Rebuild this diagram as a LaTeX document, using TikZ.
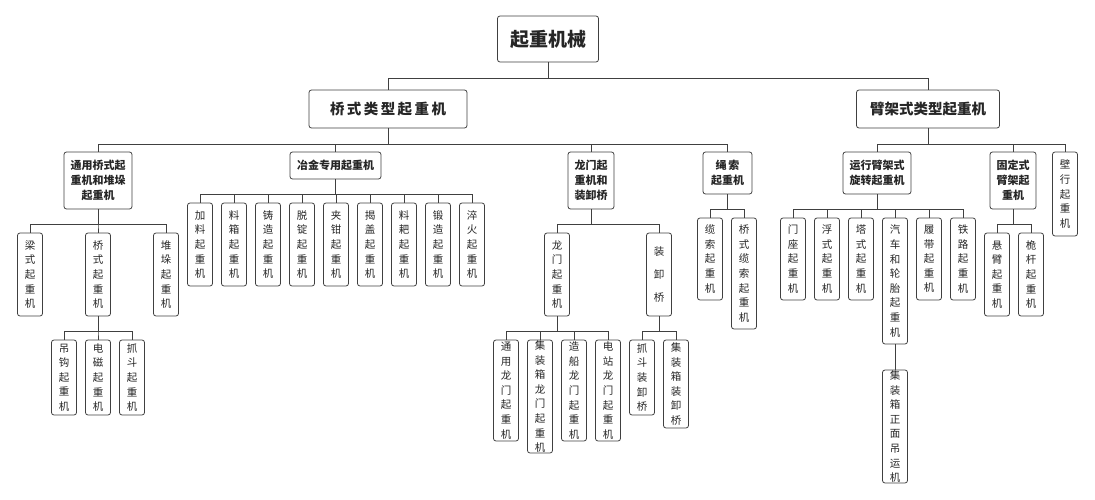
\documentclass[tikz,border=0pt]{standalone}
\usepackage{fontspec}
\setmainfont{Noto Sans CJK SC}
\begin{document}
\begin{tikzpicture}[x=1pt,y=-1pt,
  box/.style={draw=black!75,line width=0.8pt,rounded corners=2.5pt,fill=white,align=center,inner sep=0pt,text=black!85},
  vb/.style={box,minimum width=25pt,font=\fontsize{10.5}{14.6}\selectfont},
  lv2/.style={box,font=\fontsize{11}{15}\selectfont\bfseries},
  ln/.style={draw=black!75,line width=0.8pt}]
\useasboundingbox (0,0) rectangle (1095,500);
\newcommand{\mytree}[3]{\foreach \c in {#3}{\draw[ln] (#1.south) -- ++(0,#2) -| (\c.north);}}
% root and level 1
\node[box,minimum width=101pt,minimum height=46pt,font=\fontsize{19}{22}\selectfont\bfseries] (root) at (548,39) {起重机械};
\node[box,minimum width=158pt,minimum height=38pt,font=\fontsize{14.5}{18}\selectfont\bfseries] (qs) at (388,109) {桥\,式\,类\,型\,起\,重\,机};
\node[box,minimum width=143pt,minimum height=38pt,font=\fontsize{14.5}{18}\selectfont\bfseries] (bj) at (928,109) {臂架式类型起重机};
\mytree{root}{16}{qs,bj}
% level 2 left
\node[lv2,minimum width=68pt,minimum height=57pt] (ty) at (98,180.5) {通用桥式起\\重机和堆垛\\起重机};
\node[lv2,minimum width=91pt,minimum height=27pt] (yj) at (335.5,165.5) {冶金专用起重机};
\node[lv2,minimum width=46pt,minimum height=57pt] (lm) at (591,180.5) {龙门起\\重机和\\装卸桥};
\node[lv2,minimum width=49pt,minimum height=42pt] (ss) at (727.5,173) {绳\,索\\起重机};
\mytree{qs}{16}{ty,yj,lm,ss}
% level 2 right
\node[lv2,minimum width=68pt,minimum height=42pt] (yx) at (877,173) {运行臂架式\\旋转起重机};
\node[lv2,minimum width=46pt,minimum height=57pt] (gd) at (1013,180.5) {固定式\\臂架起\\重机};
\node[vb,minimum height=84pt] (bx) at (1065,194) {壁\\行\\起\\重\\机};
\mytree{bj}{16}{yx,gd,bx}
% 通用 children
\node[vb,minimum height=83pt] (ls) at (30,274.5) {梁\\式\\起\\重\\机};
\node[vb,minimum height=83pt] (qsq) at (98,274.5) {桥\\式\\起\\重\\机};
\node[vb,minimum height=83pt] (dd) at (166,274.5) {堆\\垛\\起\\重\\机};
\mytree{ty}{15}{ls,qsq,dd}
\node[vb,minimum height=75pt] (dg) at (64,377.5) {吊\\钩\\起\\重\\机};
\node[vb,minimum height=75pt] (dc) at (98,377.5) {电\\磁\\起\\重\\机};
\node[vb,minimum height=75pt] (zd) at (132,377.5) {抓\\斗\\起\\重\\机};
\mytree{qsq}{15}{dg,dc,zd}
% 冶金 children
\node[vb,minimum height=83pt] (y1) at (200,244.5) {加\\料\\起\\重\\机};
\node[vb,minimum height=83pt] (y2) at (234,244.5) {料\\箱\\起\\重\\机};
\node[vb,minimum height=83pt] (y3) at (268,244.5) {铸\\造\\起\\重\\机};
\node[vb,minimum height=83pt] (y4) at (302,244.5) {脱\\锭\\起\\重\\机};
\node[vb,minimum height=83pt] (y5) at (336,244.5) {夹\\钳\\起\\重\\机};
\node[vb,minimum height=83pt] (y6) at (370,244.5) {揭\\盖\\起\\重\\机};
\node[vb,minimum height=83pt] (y7) at (404,244.5) {料\\耙\\起\\重\\机};
\node[vb,minimum height=83pt] (y8) at (438,244.5) {锻\\造\\起\\重\\机};
\node[vb,minimum height=83pt] (y9) at (472,244.5) {淬\\火\\起\\重\\机};
\mytree{yj}{15}{y1,y2,y3,y4,y5,y6,y7,y8,y9}
% 龙门 children
\node[vb,minimum height=83pt] (lmq) at (557,274.5) {龙\\门\\起\\重\\机};
\node[vb,minimum height=83pt] (zxq) at (659,274.5) {装\\[8pt]卸\\[8pt]桥};
\mytree{lm}{15}{lmq,zxq}
\node[vb,minimum height=101pt] (l1) at (506,390.5) {通\\用\\龙\\门\\起\\重\\机};
\node[vb,minimum height=113pt] (l2) at (540,396.5) {集\\装\\箱\\龙\\门\\起\\重\\机};
\node[vb,minimum height=101pt] (l3) at (574,390.5) {造\\船\\龙\\门\\起\\重\\机};
\node[vb,minimum height=101pt] (l4) at (608,390.5) {电\\站\\龙\\门\\起\\重\\机};
\mytree{lmq}{15}{l1,l2,l3,l4}
\node[vb,minimum height=75pt] (z1) at (642,377.5) {抓\\斗\\装\\卸\\桥};
\node[vb,minimum height=88pt] (z2) at (676,384) {集\\装\\箱\\装\\卸\\桥};
\mytree{zxq}{15}{z1,z2}
% 绳索 children
\node[vb,minimum height=82pt] (s1) at (710,259) {缆\\索\\起\\重\\机};
\node[vb,minimum height=111pt] (s2) at (744,273.5) {桥\\式\\缆\\索\\起\\重\\机};
\mytree{ss}{15}{s1,s2}
% 运行 children
\node[vb,minimum height=82pt] (r1) at (793,259) {门\\座\\起\\重\\机};
\node[vb,minimum height=82pt] (r2) at (827,259) {浮\\式\\起\\重\\机};
\node[vb,minimum height=82pt] (r3) at (861,259) {塔\\式\\起\\重\\机};
\node[vb,minimum height=126pt] (r4) at (895,281) {汽\\车\\和\\轮\\胎\\起\\重\\机};
\node[vb,minimum height=82pt] (r5) at (929,259) {履\\带\\起\\重\\机};
\node[vb,minimum height=82pt] (r6) at (963,259) {铁\\路\\起\\重\\机};
\mytree{yx}{15}{r1,r2,r3,r4,r5,r6}
\node[vb,minimum height=113pt] (jz) at (895,426.5) {集\\装\\箱\\正\\面\\吊\\运\\机};
\draw[ln] (r4.south) -- (jz.north);
% 固定 children
\node[vb,minimum height=83pt] (g1) at (997,274.5) {悬\\臂\\起\\重\\机};
\node[vb,minimum height=83pt] (g2) at (1031,274.5) {桅\\杆\\起\\重\\机};
\mytree{gd}{15}{g1,g2}
\end{tikzpicture}
\end{document}
